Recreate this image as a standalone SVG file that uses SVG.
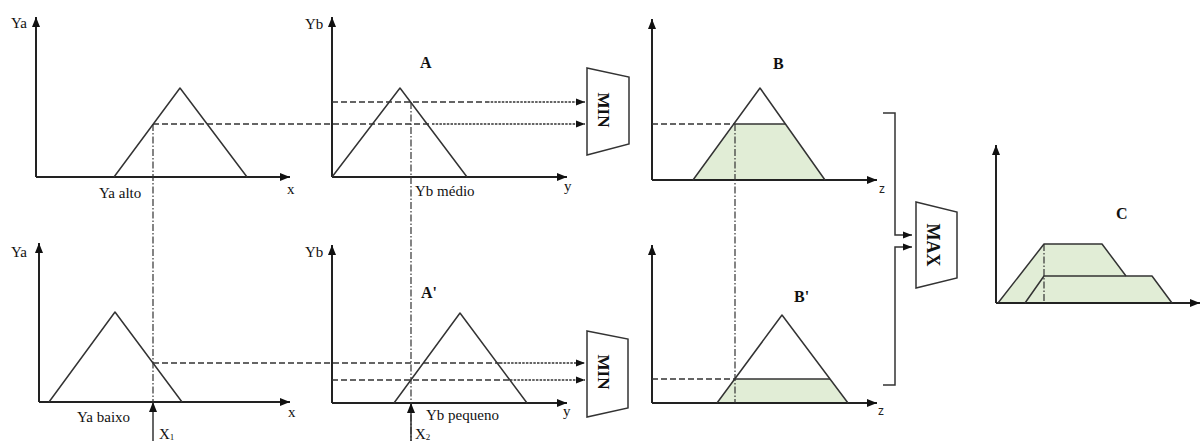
<svg xmlns="http://www.w3.org/2000/svg" width="1201" height="441" viewBox="0 0 1201 441">
<style>
  .ax{stroke:#222;stroke-width:2;fill:none}
  .mf{stroke:#333;stroke-width:1.5;fill:none;stroke-linejoin:round}
  .fill{fill:#e1edd6;stroke:none}
  .dash{stroke:#333;stroke-width:1.3;fill:none;stroke-dasharray:6,3}
  .dot{stroke:#333;stroke-width:1.3;fill:none;stroke-dasharray:2.5,1.2}
  .dd{stroke:#333;stroke-width:1.2;fill:none;stroke-dasharray:7,2,1.5,2}
  .blk{stroke:#333;stroke-width:1.5;fill:#fff}
  .br{stroke:#333;stroke-width:1.5;fill:none}
  .t{font-family:"Liberation Serif","Times New Roman",serif;font-size:15px;fill:#111}
  .lb{font-family:"Liberation Serif","Times New Roman",serif;font-size:16px;font-weight:bold;fill:#111}
  .z{font-family:"Liberation Sans",Arial,sans-serif;font-size:12px;fill:#222}
  .op{font-family:"Liberation Serif","Times New Roman",serif;font-size:17px;font-weight:bold;fill:#111;text-anchor:middle}
</style>
<defs>
  <marker id="ah" markerUnits="userSpaceOnUse" markerWidth="10" markerHeight="8" refX="10" refY="4" orient="auto">
    <path d="M0,0 L10,4 L0,8 Z" fill="#111"/>
  </marker>
  <marker id="sh" markerUnits="userSpaceOnUse" markerWidth="9" markerHeight="8" refX="9" refY="4" orient="auto">
    <path d="M0,0.5 L9,4 L0,7.5 Z" fill="#111"/>
  </marker>
</defs>

<!-- Panel 1: Ya alto -->
<g id="ya-alto">
  <path class="ax" d="M36,177 V17" marker-end="url(#ah)"/>
  <path class="ax" d="M36,177 H290" marker-end="url(#ah)"/>
  <polyline class="mf" points="114,177 180,88 247,177"/>
  <text class="t" x="11" y="28">Ya</text>
  <text class="t" x="287" y="194">x</text>
  <text class="t" x="99" y="198">Ya alto</text>
</g>

<!-- Panel 2: Yb medio -->
<g id="yb-medio">
  <path class="ax" d="M332,177 V17" marker-end="url(#ah)"/>
  <path class="ax" d="M332,177 H567" marker-end="url(#ah)"/>
  <polyline class="mf" points="332,177 400,88 467,177"/>
  <text class="t" x="305" y="29">Yb</text>
  <text class="t" x="564" y="191">y</text>
  <text class="t" x="415" y="196">Yb médio</text>
  <text class="lb" x="420" y="68">A</text>
</g>

<!-- Panel 3: B -->
<g id="b-out">
  <polygon class="fill" points="693,180 735,124 785,124 825,180"/>
  <path class="ax" d="M652,180 V19" marker-end="url(#ah)"/>
  <path class="ax" d="M652,180 H877" marker-end="url(#ah)"/>
  <polyline class="mf" points="693,180 760,88 825,180"/>
  <line class="mf" x1="735" y1="124" x2="785" y2="124"/>
  <text class="z" x="879" y="193">z</text>
  <text class="lb" x="773" y="69">B</text>
</g>

<!-- Panel 4: Ya baixo -->
<g id="ya-baixo">
  <path class="ax" d="M39,402 V243" marker-end="url(#ah)"/>
  <path class="ax" d="M39,402 H290" marker-end="url(#ah)"/>
  <polyline class="mf" points="49,402 115,312 182,402"/>
  <text class="t" x="11" y="257">Ya</text>
  <text class="t" x="288" y="417">x</text>
  <text class="t" x="77" y="422">Ya baixo</text>
  <text class="t" x="159" y="439" font-size="14">X<tspan font-size="9" dy="1">1</tspan></text>
</g>

<!-- Panel 5: Yb pequeno -->
<g id="yb-pequeno">
  <path class="ax" d="M332,403 V245" marker-end="url(#ah)"/>
  <path class="ax" d="M332,403 H567" marker-end="url(#ah)"/>
  <polyline class="mf" points="394,403 460,313 527,403"/>
  <text class="t" x="305" y="257">Yb</text>
  <text class="t" x="563" y="416">y</text>
  <text class="t" x="426" y="420">Yb pequeno</text>
  <text class="lb" x="421" y="298">A'</text>
  <text class="t" x="415" y="439" font-size="14">X<tspan font-size="9" dy="1">2</tspan></text>
</g>

<!-- Panel 6: B' -->
<g id="b-prime-out">
  <polygon class="fill" points="717,403 735,379 830,379 848,403"/>
  <path class="ax" d="M652,403 V245" marker-end="url(#ah)"/>
  <path class="ax" d="M652,403 H877" marker-end="url(#ah)"/>
  <polyline class="mf" points="717,403 782,315 848,403"/>
  <line class="mf" x1="735" y1="379" x2="830" y2="379"/>
  <text class="z" x="878" y="415">z</text>
  <text class="lb" x="794" y="302">B'</text>
</g>

<!-- MIN blocks -->
<g id="min-top">
  <polygon class="blk" points="587,68 629,77 629,144 587,155"/>
  <text class="op" transform="translate(598,110) rotate(90)">MIN</text>
</g>
<g id="min-bottom">
  <polygon class="blk" points="587,331 628,339 628,408 587,417"/>
  <text class="op" transform="translate(598,372) rotate(90)">MIN</text>
</g>

<!-- MAX block -->
<g id="max">
  <polygon class="blk" points="916,202 957,212 957,278 916,288"/>
  <text class="op" style="font-size:18px" transform="translate(927,245) rotate(90)">MAX</text>
</g>

<!-- Panel 7: C -->
<g id="c-out">
  <polygon class="fill" points="998,303 1044,244 1102,244 1126,276 1152,276 1172,303"/>
  <path class="ax" d="M996,303 V145" marker-end="url(#ah)"/>
  <path class="ax" d="M996,303 H1200" marker-end="url(#ah)"/>
  <polyline class="mf" points="998,303 1044,244 1102,244 1126,276"/>
  <polyline class="mf" points="1025,303 1044,276 1152,276 1172,303"/>
  <line class="dd" x1="1044" y1="244" x2="1044" y2="303"/>
  <text class="lb" x="1116" y="219">C</text>
</g>

<!-- Connectors -->
<g id="connectors">
  <line class="dd" x1="153" y1="124" x2="153" y2="402"/>
  <line class="dd" x1="411" y1="102" x2="411" y2="441"/>
  <line class="dd" x1="735" y1="124" x2="735" y2="403"/>
  <path class="br" d="M153,441 V402" marker-end="url(#ah)"/>
  <path class="br" d="M411,441 V403" marker-end="url(#ah)"/>
  <line class="dash" x1="332" y1="102" x2="487" y2="102"/>
  <path class="dot" d="M487,102 H585" marker-end="url(#sh)"/>
  <line class="dash" x1="153" y1="124" x2="432" y2="124"/>
  <path class="dot" d="M432,124 H585" marker-end="url(#sh)"/>
  <line class="dash" x1="153" y1="363" x2="500" y2="363"/>
  <path class="dot" d="M500,363 H585" marker-end="url(#sh)"/>
  <line class="dash" x1="332" y1="380" x2="510" y2="380"/>
  <path class="dot" d="M510,380 H585" marker-end="url(#sh)"/>
  <line class="dash" x1="652" y1="124" x2="735" y2="124"/>
  <line class="dash" x1="652" y1="379" x2="735" y2="379"/>
  <path class="br" d="M883,113 H895 V235 H912" marker-end="url(#sh)"/>
  <path class="br" d="M883,385 H895 V247 H912" marker-end="url(#sh)"/>
</g>
</svg>
